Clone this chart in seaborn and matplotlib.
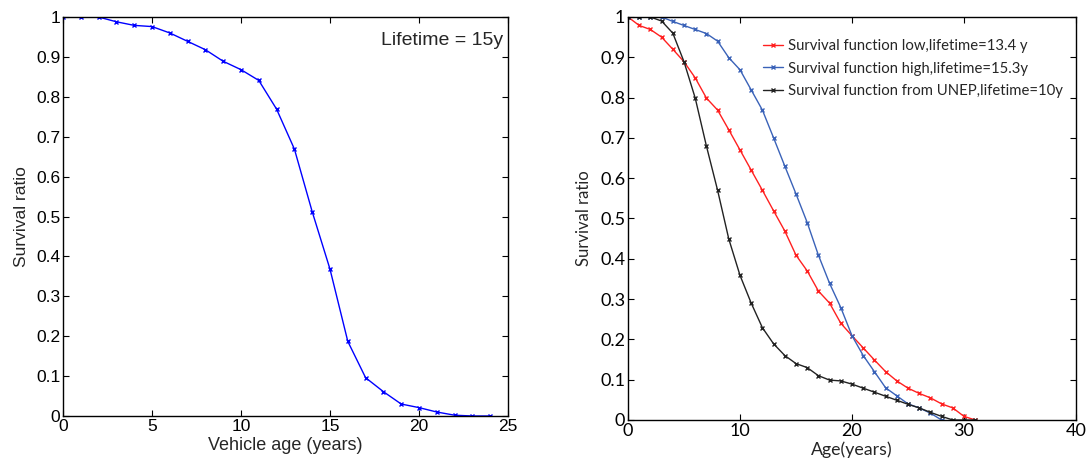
import numpy as np
import pandas as pd
import matplotlib
matplotlib.use("Agg")
import matplotlib.pyplot as plt
import seaborn as sns

# ---- data ----
vehicle_age = list(range(0, 25))
survival_15y = [1.0, 1.0, 1.0, 0.988, 0.979, 0.976, 0.960, 0.939, 0.918, 0.889,
                0.868, 0.841, 0.769, 0.669, 0.512, 0.368, 0.187, 0.096, 0.061, 0.030,
                0.021, 0.010, 0.002, 0.0, 0.0]

age_low = list(range(0, 32))
survival_low = [1.0, 0.979, 0.969, 0.950, 0.920, 0.889, 0.849, 0.799, 0.769, 0.720,
                0.670, 0.620, 0.570, 0.519, 0.469, 0.409, 0.370, 0.320, 0.290, 0.240,
                0.209, 0.179, 0.149, 0.120, 0.097, 0.079, 0.066, 0.055, 0.040, 0.030,
                0.009, 0.0]

age_high = list(range(0, 29))
survival_high = [1.0, 1.0, 1.0, 1.0, 0.989, 0.979, 0.969, 0.959, 0.940, 0.899,
                 0.869, 0.819, 0.769, 0.700, 0.630, 0.561, 0.490, 0.409, 0.339, 0.279,
                 0.209, 0.160, 0.120, 0.080, 0.060, 0.040, 0.030, 0.017, 0.0]

age_unep = list(range(0, 32))
survival_unep = [1.0, 1.0, 1.0, 0.990, 0.960, 0.889, 0.799, 0.680, 0.570, 0.449,
                 0.359, 0.290, 0.229, 0.189, 0.160, 0.140, 0.130, 0.110, 0.099, 0.097,
                 0.089, 0.079, 0.069, 0.059, 0.049, 0.039, 0.030, 0.019, 0.009, 0.0,
                 0.0, 0.0]

series_names = ["Survival function low,lifetime=13.4 y",
                "Survival function high,lifetime=15.3y",
                "Survival function from UNEP,lifetime=10y"]
series_colors = ["#ff2020", "#3a62b8", "#222222"]

left_font = "Liberation Sans"
right_font = "Lato"

sns.set_style("ticks")
plt.rcParams.update({
    "xtick.direction": "in", "ytick.direction": "in",
    "xtick.top": True, "ytick.right": True,
    "xtick.major.size": 4, "ytick.major.size": 4,
    "xtick.major.width": 0.8, "ytick.major.width": 0.8,
    "axes.linewidth": 1.0, "axes.edgecolor": "black",
    "xtick.color": "black", "ytick.color": "black",
})

fig = plt.figure(figsize=(10.88, 4.62), dpi=100)
ax1 = fig.add_axes([63/1088, 1-416/462, (508-63)/1088, (416-17)/462])
ax2 = fig.add_axes([628/1088, 1-420/462, (1076-628)/1088, (420-17)/462])


def fix_markers(lines):
    for ln in lines:
        c = ln.get_color()
        ln.set_markeredgecolor(c)
        ln.set_markerfacecolor(c)


# ---- left plot ----
df1 = pd.DataFrame({"age": vehicle_age, "ratio": survival_15y})
sns.lineplot(data=df1, x="age", y="ratio", ax=ax1, color="#0000ff",
             marker="x", markersize=3.5, markeredgewidth=1.0, linewidth=1.0)
fix_markers(ax1.get_lines())
ax1.set_xlim(0, 25)
ax1.set_ylim(0, 1)
ax1.set_xticks(np.arange(0, 26, 5))
ax1.set_yticks(np.round(np.arange(0, 1.01, 0.1), 1))
ax1.set_yticklabels(["0"] + [f"{v:.1f}" for v in np.arange(0.1, 0.95, 0.1)] + ["1"])
for lab in ax1.get_xticklabels() + ax1.get_yticklabels():
    lab.set_fontfamily(left_font)
    lab.set_fontsize(12.5)
ax1.tick_params(axis="both", pad=2)
ax1.set_xlabel("Vehicle age (years)", fontfamily=left_font, fontsize=13, labelpad=2)
ax1.set_ylabel("Survival ratio", fontfamily=left_font, fontsize=12.5, labelpad=5)
ax1.text(24.7, 0.94, "Lifetime = 15y", ha="right", va="center",
         fontfamily=left_font, fontsize=14)
for s in ax1.spines.values():
    s.set_visible(True)

# ---- right plot ----
frames = []
for name, xs, ys in zip(series_names, [age_low, age_high, age_unep],
                        [survival_low, survival_high, survival_unep]):
    frames.append(pd.DataFrame({"age": xs, "ratio": ys, "series": name}))
df2 = pd.concat(frames, ignore_index=True)
sns.lineplot(data=df2, x="age", y="ratio", hue="series", hue_order=series_names,
             palette=dict(zip(series_names, series_colors)), ax=ax2,
             marker="x", markersize=3.5, markeredgewidth=1.0, linewidth=1.0,
             dashes=False)
fix_markers(ax2.get_lines())
ax2.set_xlim(0, 40)
ax2.set_ylim(0, 1)
ax2.set_xticks(np.arange(0, 41, 10))
ax2.set_yticks(np.round(np.arange(0, 1.01, 0.1), 1))
ax2.set_yticklabels(["0"] + [f"{v:.1f}" for v in np.arange(0.1, 0.95, 0.1)] + ["1"])
for lab in ax2.get_xticklabels() + ax2.get_yticklabels():
    lab.set_fontfamily(right_font)
    lab.set_fontsize(13)
ax2.tick_params(axis="both", pad=2)
ax2.set_xlabel("Age(years)", fontfamily=right_font, fontsize=12.8, labelpad=2)
ax2.set_ylabel("Survival ratio", fontfamily=right_font, fontsize=12, labelpad=6)
for s in ax2.spines.values():
    s.set_visible(True)
leg = ax2.legend(loc="upper left", bbox_to_anchor=(0.287, 0.96), frameon=False,
                 prop={"family": right_font, "size": 10.7}, handlelength=1.4,
                 handletextpad=0.3, labelspacing=0.58, borderaxespad=0)
for line in leg.get_lines():
    line.set_linewidth(1.0)
fix_markers(leg.get_lines())

fig.savefig("out.png", dpi=100)
